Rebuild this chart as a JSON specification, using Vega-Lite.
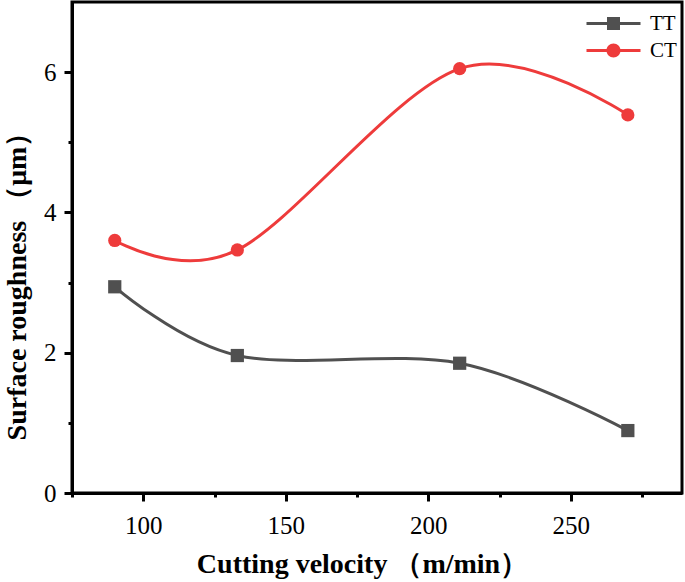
{
  "$schema": "https://vega.github.io/schema/vega-lite/v6.json",
  "width": 610,
  "height": 491,
  "padding": {"left": 3, "top": 2, "right": 2, "bottom": 4},
  "background": "white",
  "config": {
    "view": {"stroke": "black", "strokeWidth": 3},
    "axis": {
      "grid": false,
      "domainColor": "black",
      "domainWidth": 3,
      "tickColor": "black",
      "tickWidth": 3,
      "labelFont": "Liberation Serif",
      "labelFontSize": 25,
      "labelColor": "black",
      "labelPadding": 8,
      "titleFont": "Liberation Serif",
      "titleFontWeight": "bold",
      "titleColor": "black"
    },
    "legend": {
      "labelFont": "Liberation Serif",
      "labelFontSize": 21,
      "labelColor": "black"
    }
  },
  "data": {
    "values": [
      {"v": 90, "r": 2.94, "series": "TT"},
      {"v": 133, "r": 1.96, "series": "TT"},
      {"v": 211, "r": 1.85, "series": "TT"},
      {"v": 270, "r": 0.89, "series": "TT"},
      {"v": 90, "r": 3.6, "series": "CT"},
      {"v": 133, "r": 3.465, "series": "CT"},
      {"v": 211, "r": 6.05, "series": "CT"},
      {"v": 270, "r": 5.39, "series": "CT"}
    ]
  },
  "encoding": {
    "x": {
      "field": "v",
      "type": "quantitative",
      "scale": {"domain": [75, 289], "nice": false, "zero": false},
      "axis": {
        "title": "Cutting velocity （m/min）",
        "titleFontSize": 28,
        "titleX": 290,
        "values": [75, 100, 125, 150, 175, 200, 225, 250, 275],
        "labelExpr": "datum.value % 50 === 0 ? datum.label : ''",
        "tickSize": {"condition": {"test": "datum.value % 50 !== 0", "value": 4}, "value": 8},
        "labelPadding": 12,
        "titlePadding": 12
      }
    },
    "y": {
      "field": "r",
      "type": "quantitative",
      "scale": {"domain": [0, 7], "nice": false},
      "axis": {
        "title": "Surface roughness （μm）",
        "titleFontSize": 28,
        "titleY": 277,
        "values": [0, 1, 2, 3, 4, 5, 6],
        "labelExpr": "datum.value % 2 === 0 ? datum.label : ''",
        "tickSize": {"condition": {"test": "datum.value % 2 !== 0", "value": 4}, "value": 8},
        "titlePadding": 12
      }
    }
  },
  "layer": [
    {
      "mark": {"type": "line", "interpolate": "cardinal", "strokeWidth": 3},
      "encoding": {
        "color": {
          "field": "series",
          "type": "nominal",
          "scale": {"domain": ["TT", "CT"], "range": ["#505050", "#ee3b3b"]},
          "legend": null
        }
      }
    },
    {
      "mark": {"type": "point", "filled": true, "opacity": 1, "size": 175},
      "encoding": {
        "color": {
          "field": "series",
          "type": "nominal",
          "scale": {"domain": ["TT", "CT"], "range": ["#505050", "#ee3b3b"]},
          "legend": null
        },
        "shape": {
          "field": "series",
          "type": "nominal",
          "scale": {"domain": ["TT", "CT"], "range": ["square", "circle"]},
          "legend": null
        }
      }
    },
    {
      "mark": {"type": "point", "filled": true, "opacity": 0, "size": 400},
      "encoding": {
        "color": {
          "field": "series",
          "type": "nominal",
          "scale": {"domain": ["TT", "CT"], "range": ["#505050", "#ee3b3b"]},
          "legend": {
            "title": null,
            "orient": "none",
            "legendX": 531,
            "legendY": 11,
            "symbolOpacity": 1,
            "symbolStrokeWidth": 0,
            "symbolSize": 400,
            "labelOffset": 26,
            "rowPadding": 5
          }
        },
        "shape": {
          "field": "series",
          "type": "nominal",
          "scale": {
            "domain": ["TT", "CT"],
            "range": [
              "M-2.7,-0.15H-0.65V-0.65H0.65V-0.15H2.7V0.15H0.65V0.65H-0.65V0.15H-2.7Z",
              "M-2.7,-0.15H2.7V0.15H-2.7Z M0.7,0A0.7,0.7 0 1,1 -0.7,0A0.7,0.7 0 1,1 0.7,0Z"
            ]
          },
          "legend": {
            "title": null,
            "orient": "none",
            "legendX": 531,
            "legendY": 11,
            "symbolOpacity": 1,
            "symbolStrokeWidth": 0,
            "symbolSize": 400,
            "labelOffset": 26,
            "rowPadding": 5
          }
        }
      }
    }
  ],
  "resolve": {"scale": {"color": "independent", "shape": "independent"}}
}
